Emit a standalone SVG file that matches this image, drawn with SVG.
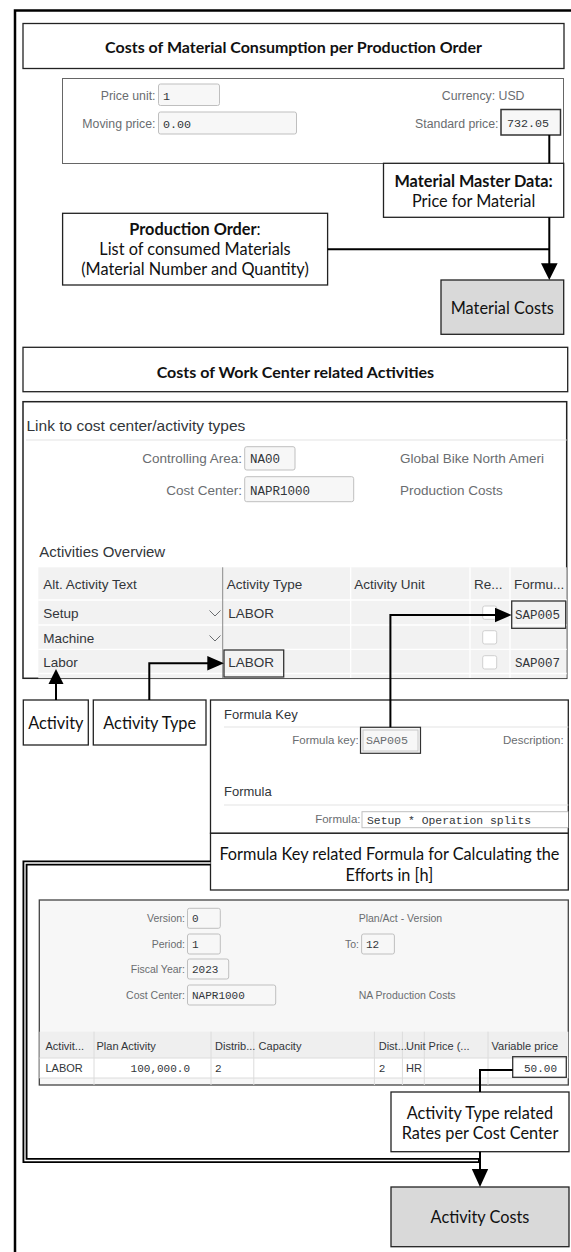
<svg xmlns="http://www.w3.org/2000/svg" width="571" height="1252" viewBox="0 0 571 1252">
<style>
.box{fill:#fff;stroke:#222;stroke-width:1.3}
.gbox{fill:#d9d9d9;stroke:#222;stroke-width:1.3}
.t{font-family:Lato,"Liberation Sans",sans-serif;font-size:16.3px;fill:#111;text-anchor:middle}
.tb{font-family:Lato,"Liberation Sans",sans-serif;font-size:16px;font-weight:bold;fill:#111;text-anchor:middle}
.b{font-weight:bold}
.sl{font-family:"Liberation Sans",Arial,sans-serif;font-size:12.3px;fill:#6a6d70;text-anchor:end}
.sls{font-family:"Liberation Sans",Arial,sans-serif;font-size:13.5px;fill:#6a6d70}
.sh{font-family:"Liberation Sans",Arial,sans-serif;font-size:13px;fill:#32363a}
.st{font-family:"Liberation Sans",Arial,sans-serif;font-size:13.5px;fill:#32363a}
.sm{font-family:"Liberation Mono","DejaVu Sans Mono",monospace;font-size:11.7px;fill:#32363a}
.inp{fill:#f7f7f7;stroke:#bfbfbf;stroke-width:1}
.hl{fill:none;stroke:#333;stroke-width:1.3}
.cb{fill:#fff;stroke:#cfcfcf;stroke-width:1}
.sep{stroke:#e3e3e3;stroke-width:1}
.cd{stroke:#dcdcdc;stroke-width:1}
.p3l{font-family:"Liberation Sans",Arial,sans-serif;font-size:10.5px;fill:#6a6d70;text-anchor:end}
.p3s{font-family:"Liberation Sans",Arial,sans-serif;font-size:10.5px;fill:#6a6d70}
.p3t{font-family:"Liberation Sans",Arial,sans-serif;font-size:11px;fill:#32363a}
.p3m{font-family:"Liberation Mono","DejaVu Sans Mono",monospace;font-size:11px;fill:#32363a}
.ln{fill:none;stroke:#000;stroke-width:2}
</style>
<defs>
<clipPath id="c2"><rect x="23" y="401.7" width="543.7" height="276.6"/></clipPath>
<clipPath id="cf"><rect x="210.5" y="700" width="357.8" height="133.3"/></clipPath>
<clipPath id="c3"><rect x="39.3" y="900" width="529" height="185"/></clipPath>
</defs>

<!-- outer frame -->
<rect x="15" y="10.5" width="570" height="1260" fill="none" stroke="#000" stroke-width="2.5"/>

<g id="title1">
<rect class="box" x="23" y="23.5" width="541" height="45"/>
<text class="tb" x="293.5" y="52.5">Costs of Material Consumption per Production Order</text>
</g>

<g id="material-master-screen">
<rect x="62.5" y="78.5" width="501" height="85" fill="#fff" stroke="#666" stroke-width="1"/>
<text class="sl" x="155.5" y="99.5">Price unit:</text>
<rect class="inp" x="158.5" y="84" width="61" height="21.5" rx="2"/>
<text class="sm" x="163" y="99.5">1</text>
<text class="sl" x="155.5" y="127.5">Moving price:</text>
<rect class="inp" x="158.5" y="112" width="138" height="22" rx="2"/>
<text class="sm" x="163" y="127.5">0.00</text>
<text class="sl" x="524.5" y="99.5">Currency: USD</text>
<text class="sl" x="498.5" y="127.5">Standard price:</text>
<rect x="501" y="109.5" width="59.5" height="25.5" fill="#f7f7f7" stroke="#333" stroke-width="1.5"/>
<text class="sm" x="507" y="127">732.05</text>
</g>

<g id="material-master-data">
<rect class="box" x="383.5" y="163.3" width="180.2" height="54"/>
<text class="t b" x="473.6" y="187.2">Material Master Data:</text>
<text class="t" x="473.6" y="207.2">Price for Material</text>
</g>

<g id="production-order">
<rect class="box" x="62.6" y="213.3" width="265" height="71.7"/>
<text class="t" x="195" y="234.5"><tspan class="b">Production Order</tspan>:</text>
<text class="t" x="195" y="254.5">List of consumed Materials</text>
<text class="t" x="195" y="274.5">(Material Number and Quantity)</text>
</g>

<g id="material-costs">
<rect class="gbox" x="441" y="280" width="122.7" height="54.3"/>
<text class="t" x="502.3" y="313.8">Material Costs</text>
</g>

<g id="title2">
<rect class="box" x="23" y="347.3" width="544.7" height="44.4"/>
<text class="tb" x="295.4" y="377.5">Costs of Work Center related Activities</text>
</g>

<g id="work-center-screen">
<rect x="23" y="401.7" width="543.7" height="276.6" fill="#fff" stroke="#222" stroke-width="1.5"/>
<g clip-path="url(#c2)">
<text class="sh" x="26.5" y="430.5" style="font-size:15.5px">Link to cost center/activity types</text>
<line class="sep" x1="26" y1="440" x2="567" y2="440"/>
<text class="sl" x="242" y="463" style="font-size:13.5px">Controlling Area:</text>
<rect class="inp" x="244.7" y="446.7" width="50.3" height="23.3" rx="2"/>
<text class="sm" x="250" y="463" style="font-size:12.5px">NA00</text>
<text class="sls" x="400" y="463">Global Bike North Ameri</text>
<text class="sl" x="242" y="494.5" style="font-size:13.5px">Cost Center:</text>
<rect class="inp" x="244.7" y="476.7" width="109" height="25" rx="2"/>
<text class="sm" x="250" y="494.5" style="font-size:12.5px">NAPR1000</text>
<text class="sls" x="400" y="494.5">Production Costs</text>
<text class="sh" x="39.3" y="557" style="font-size:15px">Activities Overview</text>
<rect x="38.3" y="567.3" width="530" height="112" fill="#f2f2f2"/>
<g stroke="#fff" stroke-width="1.3">
<line x1="38.3" y1="600" x2="567" y2="600"/>
<line x1="38.3" y1="625" x2="567" y2="625"/>
<line x1="38.3" y1="649.3" x2="567" y2="649.3"/>
<line x1="38.3" y1="673.5" x2="567" y2="673.5"/>
<line x1="350.7" y1="567.3" x2="350.7" y2="678"/>
<line x1="470" y1="567.3" x2="470" y2="678"/>
<line x1="510" y1="567.3" x2="510" y2="678"/>
</g>
<line x1="222.7" y1="567.3" x2="222.7" y2="678" stroke="#8a8a8a" stroke-width="1"/>
<text class="st" x="43.3" y="589">Alt. Activity Text</text>
<text class="st" x="226.7" y="589">Activity Type</text>
<text class="st" x="354.3" y="589">Activity Unit</text>
<text class="st" x="474" y="589">Re...</text>
<text class="st" x="514" y="589">Formu...</text>
<text class="st" x="43.3" y="617.5">Setup</text>
<text class="st" x="43.3" y="642.5">Machine</text>
<text class="st" x="43.3" y="667">Labor</text>
<polyline points="209.5,610.5 215,616 220.5,610.5" fill="none" stroke="#6a6d70" stroke-width="1"/>
<polyline points="209.5,635.5 215,641 220.5,635.5" fill="none" stroke="#6a6d70" stroke-width="1"/>
<text class="st" x="228.3" y="617.5">LABOR</text>
<text class="st" x="228.3" y="667">LABOR</text>
<rect class="hl" x="224" y="650" width="59.7" height="27"/>
<rect class="cb" x="482.7" y="606" width="14" height="13.3" rx="2"/>
<rect class="cb" x="482.7" y="630.7" width="14" height="13.3" rx="2"/>
<rect class="cb" x="482.7" y="655.7" width="14" height="13.3" rx="2"/>
<text class="sm" x="515" y="619" style="font-size:12.5px">SAP005</text>
<rect class="hl" x="511.7" y="601" width="54" height="27.3"/>
<text class="sm" x="515" y="667" style="font-size:12.5px">SAP007</text>
</g>
</g>

<g id="activity">
<rect class="box" x="23.3" y="700" width="65" height="45"/>
<text class="t" x="55.8" y="728.5">Activity</text>
</g>

<g id="activity-type">
<rect class="box" x="93.3" y="700" width="112.7" height="45"/>
<text class="t" x="149.7" y="728.5">Activity Type</text>
</g>

<g id="formula-key-screen">
<rect x="210.5" y="700" width="357.8" height="133.3" fill="#fff" stroke="#222" stroke-width="1.3"/>
<g clip-path="url(#cf)">
<text class="sh" x="224" y="719">Formula Key</text>
<line class="sep" x1="224" y1="727" x2="569" y2="727"/>
<text class="sl" x="358.7" y="744" style="font-size:11.5px">Formula key:</text>
<rect x="360.5" y="727.3" width="60" height="26" fill="#f7f7f7" stroke="#333" stroke-width="1.2"/>
<rect x="363" y="730" width="55" height="21" fill="none" stroke="#c8c8c8" stroke-width="1"/>
<text class="sm" x="366" y="744" style="fill:#6a6d70">SAP005</text>
<text class="sl" x="563.7" y="744" style="font-size:11.5px">Description:</text>
<text class="sh" x="224" y="796">Formula</text>
<line class="sep" x1="224" y1="805" x2="569" y2="805"/>
<text class="sl" x="360.5" y="823" style="font-size:11.5px">Formula:</text>
<rect x="362" y="811.7" width="210" height="16" fill="#fff" stroke="#bfbfbf" stroke-width="1"/>
<text class="sm" x="367" y="823.5" style="font-size:11.4px">Setup * Operation splits</text>
</g>
</g>

<g id="formula-label">
<rect class="box" x="210.5" y="833.3" width="357.8" height="56.7"/>
<text class="t" x="389.4" y="860">Formula Key related Formula for Calculating the</text>
<text class="t" x="389.4" y="881">Efforts in [h]</text>
</g>

<g id="cost-center-planning-screen">
<rect x="39.3" y="900" width="529" height="185" fill="#f7f7f7" stroke="#444" stroke-width="1.3"/>
<g clip-path="url(#c3)">
<text class="p3l" x="185" y="922">Version:</text>
<rect class="inp" x="187.5" y="908.3" width="32.8" height="20" rx="2"/>
<text class="p3m" x="192" y="922">0</text>
<text class="p3s" x="358.7" y="922">Plan/Act - Version</text>
<text class="p3l" x="185" y="947.5">Period:</text>
<rect class="inp" x="187.5" y="934" width="32.8" height="20" rx="2"/>
<text class="p3m" x="192" y="947.5">1</text>
<text class="p3l" x="359" y="947.5">To:</text>
<rect class="inp" x="361.6" y="934" width="32.8" height="20" rx="2"/>
<text class="p3m" x="366" y="947.5">12</text>
<text class="p3l" x="185" y="972.5">Fiscal Year:</text>
<rect class="inp" x="187.5" y="959" width="41.2" height="20" rx="2"/>
<text class="p3m" x="192" y="972.5">2023</text>
<text class="p3l" x="185" y="998.5">Cost Center:</text>
<rect class="inp" x="187.5" y="985" width="88.2" height="20" rx="2"/>
<text class="p3m" x="192" y="998.5">NAPR1000</text>
<text class="p3s" x="358.7" y="998.5">NA Production Costs</text>
<rect x="39.3" y="1031.7" width="530" height="26.3" fill="#efefef"/>
<rect x="39.3" y="1058" width="530" height="20" fill="#fff"/>
<g class="cd">
<line x1="39.3" y1="1058" x2="569" y2="1058"/>
<line x1="39.3" y1="1078" x2="569" y2="1078"/>
<line x1="94" y1="1031.7" x2="94" y2="1085"/>
<line x1="211" y1="1031.7" x2="211" y2="1085"/>
<line x1="253.8" y1="1031.7" x2="253.8" y2="1085"/>
<line x1="374.4" y1="1031.7" x2="374.4" y2="1085"/>
<line x1="402.4" y1="1031.7" x2="402.4" y2="1085"/>
<line x1="424.3" y1="1031.7" x2="424.3" y2="1085"/>
<line x1="488" y1="1031.7" x2="488" y2="1085"/>
</g>
<text class="p3t" x="45.5" y="1050">Activit...</text>
<text class="p3t" x="96.5" y="1050">Plan Activity</text>
<text class="p3t" x="215" y="1050">Distrib...</text>
<text class="p3t" x="258.6" y="1050">Capacity</text>
<text class="p3t" x="378.7" y="1050">Dist...</text>
<text class="p3t" x="406" y="1050">Unit</text>
<text class="p3t" x="428.6" y="1050">Price (...</text>
<text class="p3t" x="491.6" y="1050">Variable price</text>
<text class="p3t" x="45.5" y="1072">LABOR</text>
<text class="p3m" x="190" y="1072" text-anchor="end">100,000.0</text>
<text class="p3m" x="215" y="1072">2</text>
<text class="p3m" x="378.7" y="1072">2</text>
<text class="p3t" x="406" y="1072">HR</text>
<text class="p3m" x="557" y="1072" text-anchor="end">50.00</text>
<rect class="hl" x="512.7" y="1056.7" width="53.6" height="20.6"/>
</g>
</g>

<g id="activity-type-rates">
<rect class="box" x="391" y="1092" width="178" height="59.7"/>
<text class="t" x="480" y="1118.5">Activity Type related</text>
<text class="t" x="480" y="1139">Rates per Cost Center</text>
</g>

<g id="activity-costs">
<rect class="gbox" x="391" y="1187" width="178" height="59.7"/>
<text class="t" x="480" y="1223">Activity Costs</text>
</g>

<g id="connectors">
<path class="ln" d="M549.3,135 V163.3"/>
<path class="ln" d="M327.7,249.3 H549.3 M549.3,217.3 V265"/>
<polygon points="541,263.3 557.6,263.3 549.3,280" fill="#000"/>
<path class="ln" d="M56,700 V683"/>
<polygon points="48.5,684 63.5,684 56,669" fill="#000"/>
<path class="ln" d="M149.3,700 V663.3 H209"/>
<polygon points="207.3,656 207.3,670.6 224,663.3" fill="#000"/>
<path class="ln" d="M390.4,727.3 V615 H497"/>
<polygon points="495,607.7 495,622.3 511.7,615" fill="#000"/>
<path class="ln" d="M512.7,1070 H480 V1092"/>
<path d="M210.5,863 H25 V1160.5 H480" fill="none" stroke="#000" stroke-width="5"/>
<path d="M210.5,863 H25 V1160.5 H478" fill="none" stroke="#fff" stroke-width="1.3"/>
<path class="ln" d="M480,1151.7 V1170"/>
<polygon points="471.8,1169 488.2,1169 480,1187" fill="#000"/>
</g>
</svg>
